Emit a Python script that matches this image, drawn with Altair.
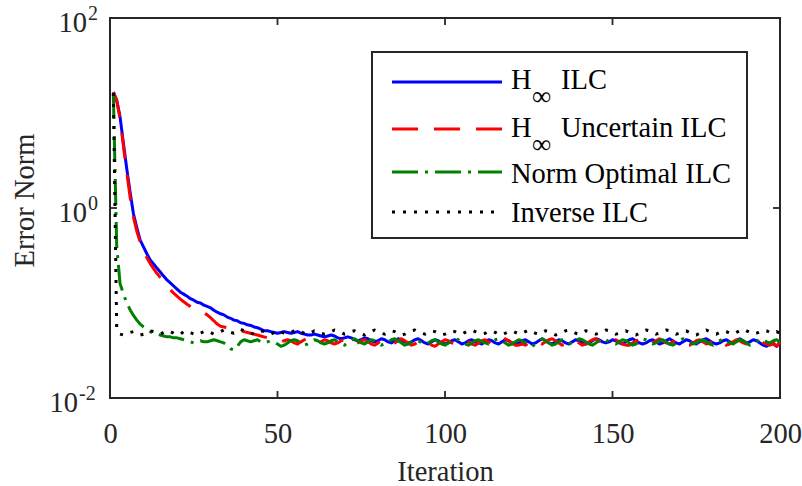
import altair as alt
import pandas as pd

# ---------------- data ----------------
iterations = list(range(1, 201))

hinf_ilc = [
    16.6, 13.7, 9.1, 4.8, 2.6, 1.47, 0.87, 0.62, 0.46, 0.39,
    0.33, 0.284, 0.258, 0.233, 0.212, 0.192, 0.175, 0.163, 0.151, 0.140,
    0.130, 0.124, 0.118, 0.111, 0.107, 0.102, 0.100, 0.095, 0.092, 0.089,
    0.084, 0.080, 0.077, 0.075, 0.071, 0.069, 0.066, 0.065, 0.062, 0.061,
    0.059, 0.058, 0.056, 0.055, 0.053, 0.051, 0.051, 0.050, 0.049, 0.048,
    0.049, 0.050, 0.049, 0.048, 0.049, 0.050, 0.048, 0.047, 0.046, 0.046,
    0.047, 0.046, 0.045, 0.044, 0.045, 0.046, 0.045, 0.043, 0.042, 0.043,
    0.044, 0.043, 0.041, 0.040, 0.041, 0.043, 0.042, 0.040, 0.039, 0.040,
    0.042, 0.041, 0.039, 0.038, 0.040, 0.042, 0.041, 0.039, 0.038, 0.039,
    0.041, 0.042, 0.040, 0.038, 0.037, 0.039, 0.041, 0.040, 0.038, 0.037,
    0.038, 0.040, 0.041, 0.039, 0.037, 0.038, 0.040, 0.041, 0.039, 0.038,
    0.037, 0.039, 0.041, 0.040, 0.038, 0.037, 0.039, 0.041, 0.040, 0.038,
    0.037, 0.038, 0.040, 0.041, 0.039, 0.037, 0.038, 0.040, 0.042, 0.040,
    0.038, 0.037, 0.039, 0.041, 0.040, 0.038, 0.037, 0.039, 0.041, 0.040,
    0.038, 0.037, 0.038, 0.040, 0.042, 0.041, 0.039, 0.038, 0.039, 0.041,
    0.040, 0.038, 0.037, 0.039, 0.041, 0.042, 0.040, 0.038, 0.037, 0.038,
    0.040, 0.041, 0.039, 0.037, 0.038, 0.040, 0.042, 0.040, 0.038, 0.037,
    0.039, 0.041, 0.040, 0.038, 0.037, 0.039, 0.041, 0.042, 0.040, 0.038,
    0.037, 0.038, 0.040, 0.041, 0.039, 0.038, 0.040, 0.042, 0.040, 0.038,
    0.039, 0.041, 0.040, 0.038, 0.036, 0.035, 0.037, 0.037, 0.035, 0.039,
]

hinf_uncertain_ilc = [
    16.6, 13.5, 8.8, 4.5, 2.4, 1.3, 0.80, 0.57, 0.44, 0.36,
    0.30, 0.26, 0.23, 0.205, 0.186, 0.168, 0.152, 0.138, 0.127, 0.118,
    0.110, 0.103, 0.097, 0.092, 0.088, 0.085, 0.082, 0.079, 0.075, 0.070,
    0.065, 0.060, 0.057, 0.056, 0.055, 0.055, 0.054, 0.053, 0.051, 0.050,
    0.049, 0.048, 0.047, 0.046, 0.045, 0.044, 0.043, 0.042, 0.041, 0.040,
    0.039, 0.040, 0.041, 0.040, 0.038, 0.037, 0.039, 0.041, 0.042, 0.040,
    0.038, 0.037, 0.039, 0.041, 0.040, 0.038, 0.037, 0.038, 0.040, 0.041,
    0.039, 0.037, 0.036, 0.038, 0.040, 0.041, 0.039, 0.037, 0.036, 0.038,
    0.040, 0.041, 0.039, 0.037, 0.038, 0.040, 0.042, 0.040, 0.038, 0.036,
    0.037, 0.039, 0.041, 0.040, 0.038, 0.036, 0.035, 0.037, 0.039, 0.041,
    0.040, 0.038, 0.037, 0.038, 0.040, 0.041, 0.039, 0.037, 0.036, 0.038,
    0.040, 0.041, 0.039, 0.037, 0.036, 0.038, 0.040, 0.042, 0.040, 0.038,
    0.036, 0.036, 0.037, 0.036, 0.038, 0.041, 0.040, 0.038, 0.037, 0.039,
    0.041, 0.042, 0.040, 0.038, 0.036, 0.037, 0.039, 0.041, 0.040, 0.038,
    0.036, 0.037, 0.039, 0.041, 0.042, 0.040, 0.038, 0.037, 0.038, 0.040,
    0.041, 0.039, 0.037, 0.036, 0.036, 0.038, 0.040, 0.041, 0.039, 0.037,
    0.036, 0.038, 0.040, 0.042, 0.040, 0.038, 0.037, 0.039, 0.041, 0.040,
    0.038, 0.036, 0.036, 0.038, 0.040, 0.041, 0.039, 0.037, 0.038, 0.040,
    0.042, 0.040, 0.038, 0.036, 0.037, 0.039, 0.041, 0.040, 0.038, 0.037,
    0.039, 0.041, 0.042, 0.040, 0.038, 0.037, 0.036, 0.038, 0.035, 0.039,
]

norm_optimal_ilc = [
    16.2, 0.40, 0.16, 0.125, 0.10, 0.085, 0.074, 0.066, 0.060, 0.056,
    0.053, 0.050, 0.048, 0.047, 0.046, 0.045, 0.044, 0.044, 0.043, 0.043,
    0.042, 0.041, 0.040, 0.039, 0.038, 0.039, 0.040, 0.039, 0.039, 0.040,
    0.041, 0.040, 0.039, 0.038, 0.036, 0.033, 0.032, 0.035, 0.039, 0.041,
    0.040, 0.039, 0.040, 0.041, 0.039, 0.038, 0.039, 0.040, 0.039, 0.037,
    0.035, 0.036, 0.038, 0.040, 0.041, 0.040, 0.038, 0.036, 0.037, 0.039,
    0.041, 0.040, 0.038, 0.037, 0.038, 0.040, 0.041, 0.039, 0.037, 0.036,
    0.038, 0.040, 0.042, 0.040, 0.038, 0.037, 0.039, 0.041, 0.040, 0.038,
    0.036, 0.037, 0.039, 0.041, 0.042, 0.040, 0.038, 0.036, 0.037, 0.039,
    0.041, 0.040, 0.038, 0.037, 0.038, 0.040, 0.041, 0.039, 0.037, 0.036,
    0.038, 0.040, 0.042, 0.041, 0.039, 0.037, 0.036, 0.038, 0.040, 0.041,
    0.039, 0.038, 0.037, 0.039, 0.041, 0.042, 0.040, 0.038, 0.036, 0.037,
    0.039, 0.041, 0.040, 0.038, 0.036, 0.035, 0.037, 0.040, 0.042, 0.040,
    0.038, 0.036, 0.037, 0.039, 0.041, 0.040, 0.038, 0.037, 0.039, 0.042,
    0.041, 0.039, 0.037, 0.036, 0.038, 0.040, 0.042, 0.041, 0.039, 0.038,
    0.037, 0.039, 0.041, 0.040, 0.038, 0.036, 0.037, 0.039, 0.042, 0.041,
    0.039, 0.037, 0.038, 0.040, 0.041, 0.039, 0.037, 0.036, 0.038, 0.040,
    0.042, 0.041, 0.039, 0.037, 0.038, 0.040, 0.041, 0.039, 0.037, 0.036,
    0.038, 0.040, 0.042, 0.040, 0.038, 0.037, 0.039, 0.041, 0.040, 0.038,
    0.036, 0.037, 0.039, 0.042, 0.041, 0.039, 0.038, 0.040, 0.041, 0.039,
]

inverse_ilc = [
    16.2, 0.054, 0.047, 0.046, 0.047, 0.049, 0.050, 0.048, 0.046, 0.047,
    0.049, 0.051, 0.050, 0.048, 0.047, 0.049, 0.051, 0.050, 0.048, 0.046,
    0.047, 0.050, 0.051, 0.049, 0.047, 0.046, 0.048, 0.050, 0.051, 0.049,
    0.047, 0.048, 0.050, 0.052, 0.051, 0.049, 0.048, 0.050, 0.053, 0.051,
    0.049, 0.048, 0.047, 0.049, 0.051, 0.050, 0.048, 0.047, 0.049, 0.051,
    0.050, 0.048, 0.047, 0.049, 0.051, 0.052, 0.050, 0.048, 0.047, 0.049,
    0.051, 0.050, 0.048, 0.047, 0.048, 0.050, 0.052, 0.051, 0.049, 0.047,
    0.048, 0.050, 0.051, 0.049, 0.047, 0.046, 0.048, 0.050, 0.052, 0.050,
    0.048, 0.047, 0.049, 0.051, 0.050, 0.048, 0.046, 0.047, 0.049, 0.051,
    0.052, 0.050, 0.048, 0.047, 0.049, 0.051, 0.050, 0.048, 0.046, 0.047,
    0.049, 0.051, 0.050, 0.048, 0.047, 0.049, 0.051, 0.052, 0.050, 0.048,
    0.047, 0.048, 0.050, 0.051, 0.049, 0.047, 0.046, 0.048, 0.050, 0.051,
    0.049, 0.047, 0.048, 0.050, 0.052, 0.050, 0.048, 0.047, 0.049, 0.051,
    0.050, 0.048, 0.046, 0.047, 0.049, 0.051, 0.052, 0.050, 0.048, 0.047,
    0.049, 0.051, 0.050, 0.048, 0.047, 0.048, 0.050, 0.052, 0.051, 0.049,
    0.047, 0.048, 0.050, 0.051, 0.049, 0.047, 0.046, 0.048, 0.050, 0.052,
    0.051, 0.049, 0.047, 0.048, 0.050, 0.052, 0.051, 0.049, 0.047, 0.048,
    0.050, 0.051, 0.049, 0.047, 0.046, 0.048, 0.050, 0.052, 0.050, 0.048,
    0.047, 0.049, 0.051, 0.050, 0.048, 0.047, 0.049, 0.051, 0.053, 0.051,
    0.049, 0.047, 0.048, 0.050, 0.052, 0.051, 0.049, 0.048, 0.050, 0.048,
]

series_keys = ["hinf", "hinf_unc", "normopt", "inverse"]
series_values = [hinf_ilc, hinf_uncertain_ilc, norm_optimal_ilc, inverse_ilc]
for v in series_values:
    assert len(v) == len(iterations), len(v)

x_tick_values = [0, 50, 100, 150, 200]
y_tick_values = [0.01, 1, 100]
y_tick_exponents = ["-2", "0", "2"]

# legend texts: main part, subscript, remainder
legend_main = ["H", "H", "Norm Optimal ILC", "Inverse ILC"]
legend_sub = ["∞", "∞", "", ""]
legend_rest = ["ILC", "Uncertain ILC", "", ""]

# ---------------- styles ----------------
FONT = "Liberation Serif"
FS = 28.5
INK = "#262626"
W, H = 670, 380
styles = {
    "hinf": dict(color="#0000ff"),
    "hinf_unc": dict(color="#ff0000", strokeDash=[26, 16]),
    "normopt": dict(color="#008000", strokeDash=[26, 7, 3, 7]),
    "inverse": dict(color="#000000", strokeDash=[3, 8]),
}

frames = []
for key, vals in zip(series_keys, series_values):
    frames.append(pd.DataFrame({"iteration": iterations, "error": vals, "series": key}))
df = pd.concat(frames, ignore_index=True)

x_enc = alt.X(
    "iteration:Q",
    scale=alt.Scale(domain=[0, 200], nice=False, zero=False),
    axis=alt.Axis(
        values=x_tick_values, format="d", tickSize=0, domain=False, grid=False,
        labelFont=FONT, labelFontSize=FS, labelColor=INK, labelPadding=21,
        labelFlush=False,
        title="Iteration", titleFont=FONT, titleFontSize=FS, titleColor=INK,
        titleFontWeight="normal", titleX=W / 2, titleY=82,
        titleBaseline="alphabetic", titleAlign="center",
    ),
)
y_enc = alt.Y(
    "error:Q",
    scale=alt.Scale(type="log", domain=[0.01, 100], nice=False),
    axis=alt.Axis(
        labels=False, ticks=False, domain=False, grid=False,
        title="Error Norm", titleFont=FONT, titleFontSize=FS, titleColor=INK,
        titleFontWeight="normal", titleAngle=270, titleX=-77, titleY=182,
        titleBaseline="alphabetic", titleAlign="center",
    ),
)

layers = []
for key in series_keys:
    st = styles[key]
    kw = dict(color=st["color"], strokeWidth=3, strokeCap="butt", strokeJoin="round")
    if "strokeDash" in st:
        kw["strokeDash"] = st["strokeDash"]
    layers.append(
        alt.Chart(df).transform_filter(alt.datum.series == key)
        .mark_line(**kw).encode(x=x_enc, y=y_enc)
    )

# inward ticks (MATLAB style, mirrored on top/right)
xt = pd.DataFrame({"iteration": x_tick_values})
yt = pd.DataFrame({"error": y_tick_values})
TL = 7
layers.append(alt.Chart(xt).mark_rule(color=INK, strokeWidth=1.8).encode(
    x=x_enc, y=alt.value(H), y2=alt.value(H - TL)))
layers.append(alt.Chart(xt).mark_rule(color=INK, strokeWidth=1.8).encode(
    x=x_enc, y=alt.value(0), y2=alt.value(TL)))
layers.append(alt.Chart(yt).mark_rule(color=INK, strokeWidth=1.8).encode(
    y=y_enc, x=alt.value(0), x2=alt.value(TL)))
layers.append(alt.Chart(yt).mark_rule(color=INK, strokeWidth=1.8).encode(
    y=y_enc, x=alt.value(W - TL), x2=alt.value(W)))

# y tick labels with superscript exponent
ylab = pd.DataFrame({"error": y_tick_values, "exp": y_tick_exponents, "base": ["10"] * 3})
for val, exp in zip(y_tick_values, y_tick_exponents):
    base_right = -32 if exp.startswith("-") else -23
    sub = ylab[ylab["error"] == val]
    layers.append(alt.Chart(sub).mark_text(
        font=FONT, fontSize=FS, color=INK, align="right", baseline="alphabetic", dy=14
    ).encode(y=y_enc, x=alt.value(base_right), text="base:N"))
    layers.append(alt.Chart(sub).mark_text(
        font=FONT, fontSize=20, color=INK, align="left", baseline="alphabetic", dy=2
    ).encode(y=y_enc, x=alt.value(base_right + 1), text="exp:N"))

# legend box
one = pd.DataFrame({"k": [0]})
layers.append(alt.Chart(one).mark_rect(fill="white", stroke=INK, strokeWidth=2).encode(
    x=alt.value(262), x2=alt.value(637), y=alt.value(34), y2=alt.value(220)))

leg_line_y = [64, 111, 154, 194]
leg_text_y = [71, 119, 165, 204]
leg_sub_y = [87, 135]
for i, key in enumerate(series_keys):
    st = styles[key]
    kw = dict(color=st["color"], strokeWidth=3, strokeCap="butt")
    if "strokeDash" in st:
        kw["strokeDash"] = st["strokeDash"]
    layers.append(alt.Chart(one).mark_rule(**kw).encode(
        x=alt.value(282), x2=alt.value(392), y=alt.value(leg_line_y[i])))
    ldf = pd.DataFrame({"main": [legend_main[i]], "sub": [legend_sub[i]], "rest": [legend_rest[i]]})
    layers.append(alt.Chart(ldf).mark_text(
        font=FONT, fontSize=FS, color="#000000", align="left", baseline="alphabetic"
    ).encode(x=alt.value(401), y=alt.value(leg_text_y[i]), text="main:N"))
    if legend_sub[i]:
        layers.append(alt.Chart(ldf).mark_text(
            font=FONT, fontSize=27, color="#000000", align="left", baseline="alphabetic"
        ).encode(x=alt.value(422), y=alt.value(leg_sub_y[i]), text="sub:N"))
        layers.append(alt.Chart(ldf).mark_text(
            font=FONT, fontSize=FS, color="#000000", align="left", baseline="alphabetic"
        ).encode(x=alt.value(451), y=alt.value(leg_text_y[i]), text="rest:N"))

chart = alt.layer(*layers).properties(
    width=W, height=H,
    padding={"left": 110, "top": 18, "right": 22, "bottom": 88},
    autosize=alt.AutoSizeParams(type="none"),
    background="white",
).configure_view(stroke=INK, strokeWidth=2)

chart.save("out.html", embed_options={"renderer": "svg", "actions": False})
